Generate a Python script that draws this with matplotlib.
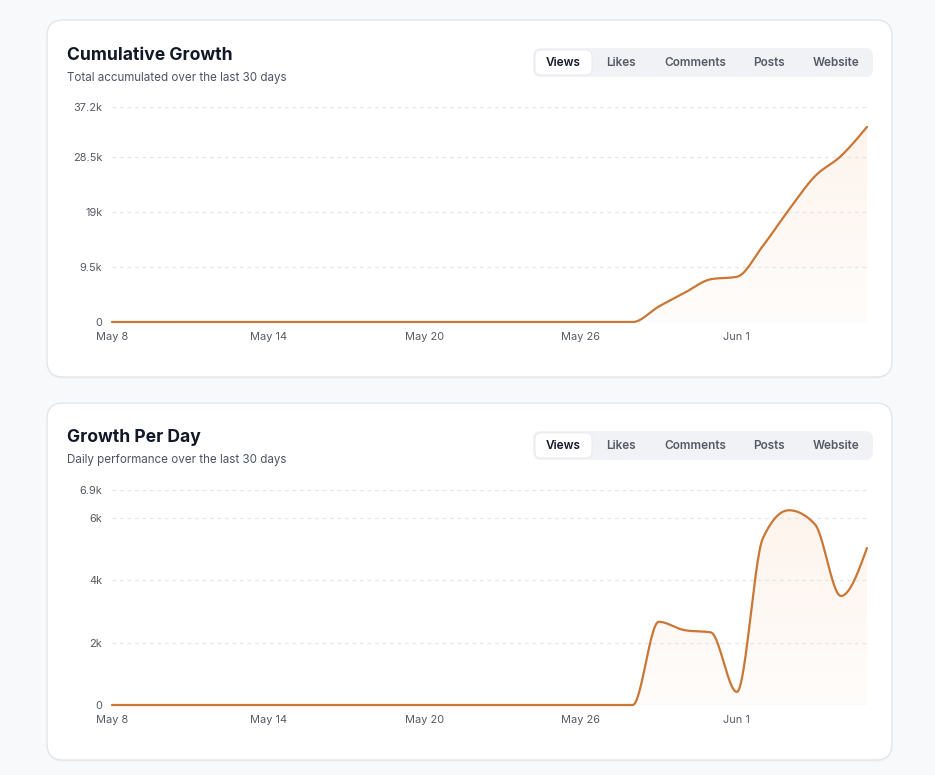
import numpy as np
import matplotlib
matplotlib.use("Agg")
import matplotlib.pyplot as plt
from matplotlib.patches import FancyBboxPatch
from matplotlib.colors import LinearSegmentedColormap

plt.rcParams['font.family'] = ['Inter', 'DejaVu Sans']

# data: May 8 .. Jun 6 (30 days)
dates = ['May 8', 'May 9', 'May 10', 'May 11', 'May 12', 'May 13', 'May 14', 'May 15',
         'May 16', 'May 17', 'May 18', 'May 19', 'May 20', 'May 21', 'May 22', 'May 23',
         'May 24', 'May 25', 'May 26', 'May 27', 'May 28', 'May 29', 'May 30', 'May 31',
         'Jun 1', 'Jun 2', 'Jun 3', 'Jun 4', 'Jun 5', 'Jun 6']
daily_views = [0] * 21 + [2670, 2400, 2330, 420, 5350, 6250, 5800, 3500, 5040]
cumulative_views = [0] * 21 + [2670, 5070, 7400, 7820, 13170, 19420, 25220, 28720, 33760]

xtick_labels = ['May 8', 'May 14', 'May 20', 'May 26', 'Jun 1']
cum_ticks = [0, 9500, 19000, 28500, 37200]
cum_tick_labels = ['0', '9.5k', '19k', '28.5k', '37.2k']
daily_ticks = [0, 2000, 4000, 6000, 6900]
daily_tick_labels = ['0', '2k', '4k', '6k', '6.9k']
tabs = ['Views', 'Likes', 'Comments', 'Posts', 'Website']

LINE = '#ca7634'
W, H = 935, 775


def monotone(x, y, n=30):
    # d3 curveMonotoneX style interpolation
    x = np.asarray(x, float)
    y = np.asarray(y, float)
    h = np.diff(x)
    s = np.diff(y) / h
    t = np.zeros_like(y)
    for i in range(1, len(y) - 1):
        p = (s[i - 1] * h[i] + s[i] * h[i - 1]) / (h[i - 1] + h[i])
        t[i] = (np.sign(s[i - 1]) + np.sign(s[i])) * min(abs(s[i - 1]), abs(s[i]), 0.5 * abs(p))
    t[0] = (3 * s[0] - t[1]) / 2
    t[-1] = (3 * s[-1] - t[-2]) / 2
    xs, ys = [], []
    for i in range(len(h)):
        u = np.linspace(0, 1, n, endpoint=False)
        h00 = 2 * u**3 - 3 * u**2 + 1
        h10 = u**3 - 2 * u**2 + u
        h01 = -2 * u**3 + 3 * u**2
        h11 = u**3 - u**2
        xs.append(x[i] + u * h[i])
        ys.append(h00 * y[i] + h10 * h[i] * t[i] + h01 * y[i + 1] + h11 * h[i] * t[i + 1])
    xs.append([x[-1]])
    ys.append([y[-1]])
    return np.concatenate(xs), np.concatenate(ys)


fig = plt.figure(figsize=(W / 100, H / 100), dpi=100)
fig.patch.set_facecolor('#f8f9fb')
bg = fig.add_axes([0, 0, 1, 1])
bg.set_xlim(0, W)
bg.set_ylim(H, 0)
bg.axis('off')

grad_cmap = LinearSegmentedColormap.from_list('g', [(0.96, 0.62, 0.35, 0.0), (0.95, 0.6, 0.33, 0.11)])


def card(off, title, subtitle, values, ticks, tick_labels):
    # shadow + card
    bg.add_patch(FancyBboxPatch((47, 21.5 + off), 845, 357, boxstyle='round,pad=0,rounding_size=16',
                                fc='#000000', ec='none', alpha=0.035, zorder=1))
    bg.add_patch(FancyBboxPatch((47, 20 + off), 845, 357, boxstyle='round,pad=0,rounding_size=16',
                                fc='white', ec='#e3e5e9', lw=1, zorder=2))
    bg.text(67, 55 + off, title, fontsize=12.6, fontweight='bold', color='#111827',
            va='center', ha='left', zorder=3)
    bg.text(67, 77.5 + off, subtitle, fontsize=8.35, color='#4b5563', va='center', ha='left', zorder=3)

    # tab switcher
    bg.add_patch(FancyBboxPatch((533, 48 + off), 340, 29, boxstyle='round,pad=0,rounding_size=8',
                                fc='#f1f2f5', ec='none', zorder=3))
    bg.add_patch(FancyBboxPatch((535, 50 + off), 57, 25, boxstyle='round,pad=0,rounding_size=6',
                                fc='white', ec='#e6e7ea', lw=0.6, zorder=4))
    for name, cx in zip(tabs, [563, 621, 695, 769, 836]):
        bg.text(cx, 63 + off, name, fontsize=8.5, fontweight='semibold',
                color='#111827' if name == 'Views' else '#555b66',
                ha='center', va='center', zorder=5)

    # plot area
    left, right, top, bottom = 112, 867, 107 + off, 322 + off
    ax = fig.add_axes([left / W, 1 - bottom / H, (right - left) / W, (bottom - top) / H])
    ax.set_facecolor('none')
    ax.set_zorder(5)
    x = np.arange(len(values))
    for sp in ax.spines.values():
        sp.set_visible(False)
    for tv in ticks:
        ax.axhline(tv, color='#e4e6ea', lw=0.9, ls=(0, (3, 3)), zorder=3)

    xs, ys = monotone(x, values)
    fill = ax.fill_between(xs, ys, 0, color='none', lw=0)
    ymax = max(values)
    img = ax.imshow(np.linspace(0, 1, 256).reshape(-1, 1), cmap=grad_cmap, aspect='auto',
                    extent=[0, len(values) - 1, -0.35 * ymax, ymax], origin='lower', zorder=2)
    img.set_clip_path(fill.get_paths()[0], transform=ax.transData)
    ax.plot(xs, ys, color=LINE, lw=1.6, solid_capstyle='round', zorder=4, clip_on=False)
    ax.set_xlim(0, len(values) - 1)
    ax.set_ylim(0, ticks[-1])

    ax.set_yticks(ticks)
    ax.set_yticklabels(tick_labels)
    ax.set_xticks([dates.index(d) for d in xtick_labels])
    ax.set_xticklabels(xtick_labels)
    ax.tick_params(axis='both', length=0, labelsize=7.9, colors='#555a63')
    ax.tick_params(axis='y', pad=7)
    ax.tick_params(axis='x', pad=7)
    return ax


card(0, 'Cumulative Growth', 'Total accumulated over the last 30 days',
     cumulative_views, cum_ticks, cum_tick_labels)
card(383, 'Growth Per Day', 'Daily performance over the last 30 days',
     daily_views, daily_ticks, daily_tick_labels)

fig.savefig('out.png', dpi=100, facecolor=fig.get_facecolor())
